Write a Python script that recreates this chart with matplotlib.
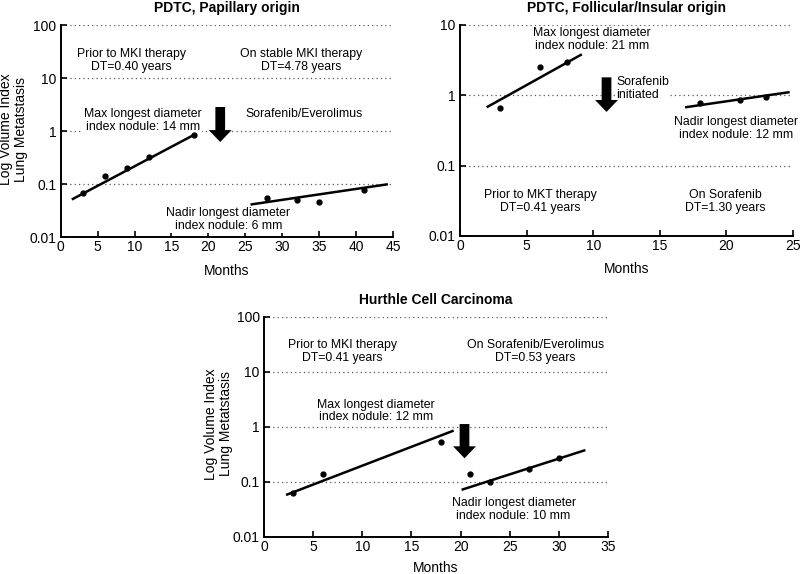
import matplotlib
matplotlib.use('Agg')
import matplotlib.pyplot as plt
from matplotlib.ticker import FixedLocator, FixedFormatter, NullLocator

plt.rcParams['font.family'] = ['Liberation Sans', 'DejaVu Sans']

# PDTC, papillary origin
pap_pre_months = [3, 6, 9, 12, 18]
pap_pre_vol = [0.069, 0.143, 0.198, 0.32, 0.84]
pap_pre_fit_months = [1.5, 18]
pap_pre_fit_vol = [0.051, 0.84]
pap_post_months = [28, 32, 35, 41]
pap_post_vol = [0.054, 0.051, 0.046, 0.077]
pap_post_fit_months = [25.7, 44.3]
pap_post_fit_vol = [0.041, 0.099]

# PDTC, follicular/insular origin
fol_pre_months = [3, 6, 8]
fol_pre_vol = [0.65, 2.55, 3.0]
fol_pre_fit_months = [2.0, 9.15]
fol_pre_fit_vol = [0.675, 3.83]
fol_post_months = [18, 21, 23]
fol_post_vol = [0.77, 0.86, 0.955]
fol_post_fit_months = [16.9, 24.75]
fol_post_fit_vol = [0.675, 1.11]

# Hurthle cell carcinoma
hur_pre_months = [3, 6, 18]
hur_pre_vol = [0.062, 0.14, 0.53]
hur_pre_fit_months = [2.24, 19.3]
hur_pre_fit_vol = [0.058, 0.86]
hur_post_months = [21, 23, 27, 30]
hur_post_vol = [0.14, 0.10, 0.17, 0.277]
hur_post_fit_months = [20.1, 32.7]
hur_post_fit_vol = [0.072, 0.38]

y_ticks_100 = [0.01, 0.1, 1, 10, 100]
y_labels_100 = ['0.01', '0.1', '1', '10', '100']
y_ticks_10 = [0.01, 0.1, 1, 10]
y_labels_10 = ['0.01', '0.1', '1', '10']

ylab = 'Log Volume Index\nLung Metatstasis'
fs = 10
note_fs = 8.8
box = dict(facecolor='white', edgecolor='none', pad=0.5)


def setup(ax, title, xmax, yticks, ylabels, xpad=7):
    ax.set_yscale('log')
    ax.set_xlim(0, xmax)
    ax.set_ylim(yticks[0], yticks[-1])
    ax.xaxis.set_major_locator(FixedLocator(list(range(0, xmax + 1, 5))))
    ax.yaxis.set_major_locator(FixedLocator(yticks))
    ax.yaxis.set_major_formatter(FixedFormatter(ylabels))
    ax.yaxis.set_minor_locator(NullLocator())
    ax.tick_params(direction='in', length=4, width=1.2, labelsize=fs, pad=3)
    ax.tick_params(axis='x', pad=2)
    for s in ['top', 'right']:
        ax.spines[s].set_visible(False)
    for s in ['left', 'bottom']:
        ax.spines[s].set_linewidth(1.4)
    ax.grid(axis='y', linestyle=(0, (1, 2.5)), color='0.35', linewidth=0.9)
    ax.set_axisbelow(True)
    ax.set_title(title, fontsize=fs, fontweight='bold', pad=9.5)
    ax.set_xlabel('Months', fontsize=fs, labelpad=xpad)


def series(ax, mx, my, fx, fy):
    ax.plot(fx, fy, color='black', linewidth=1.8, solid_capstyle='butt', zorder=3)
    ax.plot(mx, my, 'o', color='black', markersize=3.5, zorder=4)


def arrow(ax, x, top, tip):
    ax.annotate('', xy=(x, tip), xytext=(x, top),
                arrowprops=dict(arrowstyle='simple,head_width=16.5,head_length=8.6,tail_width=7',
                                fc='black', ec='black', mutation_scale=1,
                                shrinkA=0, shrinkB=0, linewidth=0))


def note(ax, x, y, s, ha='center'):
    ax.text(x, y, s, ha=ha, va='center', fontsize=note_fs, linespacing=1.1, bbox=box, zorder=2)


fig = plt.figure(figsize=(8, 5.74), dpi=100)

# top left
ax1 = fig.add_axes([0.0759, 0.5871, 0.4154, 0.3693])
setup(ax1, 'PDTC, Papillary origin', 45, y_ticks_100, y_labels_100)
series(ax1, pap_pre_months, pap_pre_vol, pap_pre_fit_months, pap_pre_fit_vol)
series(ax1, pap_post_months, pap_post_vol, pap_post_fit_months, pap_post_fit_vol)
arrow(ax1, 21.6, 2.84, 0.62)
note(ax1, 9.6, 21, 'Prior to MKI therapy\nDT=0.40 years')
note(ax1, 32.5, 21, 'On stable MKI therapy\nDT=4.78 years')
note(ax1, 11.1, 1.55, 'Max longest diameter\nindex nodule: 14 mm')
note(ax1, 33, 2.1, 'Sorafenib/Everolimus')
note(ax1, 22.7, 0.021, 'Nadir longest diameter\nindex nodule: 6 mm')
fig.text(13.5 / 800, 1 - 129 / 574, ylab, rotation=90, ha='center', va='center',
         fontsize=fs, linespacing=1.15)

# top right
ax2 = fig.add_axes([0.575, 0.5889, 0.41625, 0.3676])
setup(ax2, 'PDTC, Follicular/Insular origin', 25, y_ticks_10, y_labels_10)
series(ax2, fol_pre_months, fol_pre_vol, fol_pre_fit_months, fol_pre_fit_vol)
series(ax2, fol_post_months, fol_post_vol, fol_post_fit_months, fol_post_fit_vol)
arrow(ax2, 11.0, 1.8, 0.58)
note(ax2, 9.9, 6.3, 'Max longest diameter\nindex nodule: 21 mm')
note(ax2, 11.75, 1.25, 'Sorafenib\ninitiated', ha='left')
note(ax2, 20.7, 0.34, 'Nadir longest diameter\nindex nodule: 12 mm')
note(ax2, 6.0, 0.031, 'Prior to MKT therapy\nDT=0.41 years')
note(ax2, 19.9, 0.031, 'On Sorafenib\nDT=1.30 years')

# bottom
ax3 = fig.add_axes([0.33, 0.0645, 0.43, 0.3833])
setup(ax3, 'Hurthle Cell Carcinoma', 35, y_ticks_100, y_labels_100, xpad=5)
series(ax3, hur_pre_months, hur_pre_vol, hur_pre_fit_months, hur_pre_fit_vol)
series(ax3, hur_post_months, hur_post_vol, hur_post_fit_months, hur_post_fit_vol)
arrow(ax3, 20.4, 1.13, 0.27)
note(ax3, 8.0, 24, 'Prior to MKI therapy\nDT=0.41 years')
note(ax3, 27.6, 24, 'On Sorafenib/Everolimus\nDT=0.53 years')
note(ax3, 11.4, 1.95, 'Max longest diameter\nindex nodule: 12 mm')
note(ax3, 25.4, 0.032, 'Nadir longest diameter\nindex nodule: 10 mm')
fig.text(218.5 / 800, 1 - 424 / 574, ylab, rotation=90, ha='center', va='center',
         fontsize=fs, linespacing=1.15)

fig.savefig('out.png', dpi=100)
